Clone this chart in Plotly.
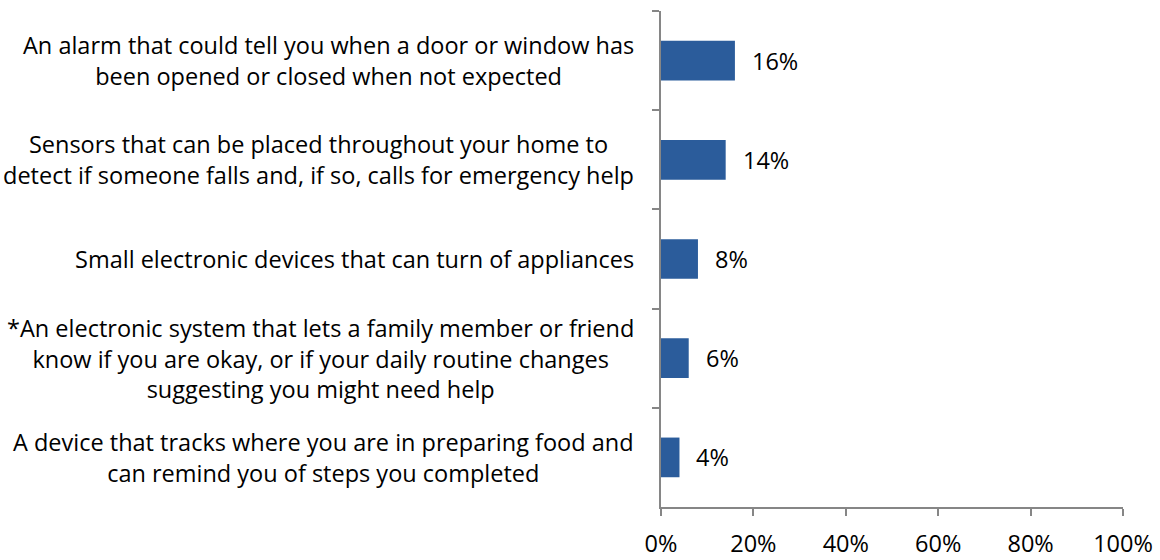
import plotly.graph_objects as go

# Survey items (top to bottom) and share of respondents
categories = [
    "An alarm that could tell you when a door or window has<br>been opened or closed when not expected",
    "Sensors that can be placed throughout your home to<br>detect if someone falls and, if so, calls for emergency help",
    "Small electronic devices that can turn of appliances",
    "*An electronic system that lets a family member or friend<br>know if you are okay, or if your daily routine changes<br>suggesting you might need help",
    "A device that tracks where you are in preparing food and<br>can remind you of steps you completed",
]
values = [16, 14, 8, 6, 4]
x_ticks = [0, 20, 40, 60, 80, 100]
x_tick_labels = ["0%", "20%", "40%", "60%", "80%", "100%"]

FONT = "Open Sans"
FONT_SIZE = 23.5
BAR_COLOR = "#2B5C9B"
AXIS_COLOR = "#868686"

fig = go.Figure(
    go.Bar(
        x=values,
        y=categories,
        orientation="h",
        marker=dict(color=BAR_COLOR, line=dict(width=0)),
        width=0.4,
        hoverinfo="skip",
    )
)

# Value labels to the right of each bar
for cat, v in zip(categories, values):
    fig.add_annotation(
        x=v, y=cat, xref="x", yref="y",
        text=f"{v}%", showarrow=False,
        xanchor="left", xshift=15,
        font=dict(family=FONT, size=FONT_SIZE, color="#000000"),
    )

# Category labels, each line centred, placed left of the axis
for cat in categories:
    fig.add_annotation(
        x=0, y=cat, xref="paper", yref="y",
        text=cat, showarrow=False,
        xanchor="right", xshift=-25, align="center",
        font=dict(family=FONT, size=FONT_SIZE, color="#000000"),
    )

fig.update_layout(
    width=1160, height=560,
    margin=dict(l=661, r=37, t=11, b=53, autoexpand=False),
    paper_bgcolor="white", plot_bgcolor="white",
    showlegend=False,
    font=dict(family=FONT, size=FONT_SIZE, color="#000000"),
    xaxis=dict(
        range=[0, 100], tickvals=x_ticks, ticktext=x_tick_labels,
        showgrid=False, zeroline=False,
        showline=True, linecolor=AXIS_COLOR, linewidth=1.5,
        ticks="outside", ticklen=7, tickcolor=AXIS_COLOR, tickwidth=1.5,
        ticklabelstandoff=8,
        tickfont=dict(family=FONT, size=FONT_SIZE, color="#000000"),
        automargin=False,
        fixedrange=True,
    ),
    yaxis=dict(
        categoryorder="array", categoryarray=categories,
        autorange="reversed",
        showgrid=False, zeroline=False,
        showline=True, linecolor=AXIS_COLOR, linewidth=1.5,
        ticks="outside", ticklen=7, tickcolor=AXIS_COLOR, tickwidth=1.5,
        tickson="boundaries",
        showticklabels=False,
        automargin=False,
        fixedrange=True,
    ),
)

fig.write_html("out.html")
